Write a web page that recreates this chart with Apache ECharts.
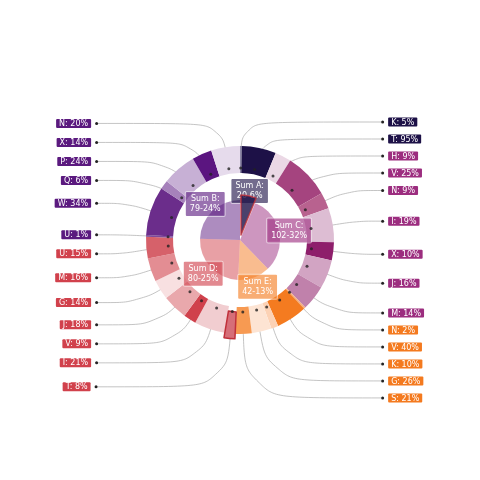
<!DOCTYPE html>
<html><head><meta charset="utf-8">
<script src="https://cdn.jsdelivr.net/npm/echarts@6/dist/echarts.min.js"></script>
<style>html,body{margin:0;padding:0;background:#fff}#c{width:480px;height:480px}</style>
</head><body><div id="c"></div>
<script>
// groups in clockwise drawing order
const groupNames = ['Sum A', 'Sum C', 'Sum E', 'Sum D', 'Sum B'];
const childNames = [
  ['K', 'T'],
  ['H', 'V', 'N', 'I', 'X', 'J', 'M'],
  ['N', 'V', 'K', 'G', 'S'],
  ['T', 'I', 'V', 'J', 'G', 'M', 'U'],
  ['U', 'W', 'Q', 'P', 'X', 'N']
];
const childValues = [
  [1, 19],
  [9, 25, 9, 19, 10, 16, 14],
  [1, 17, 4, 11, 9],
  [6, 17, 7, 14, 11, 13, 12],
  [1, 27, 5, 19, 11, 16]
];
// styles
const groupColors = ['#1d1147', '#9c2d7f', '#f47a1f', '#d1414c', '#5b1a7f'];
const childColors = [
  ['#8d87a6', '#1d1147'],
  ['#ebd8e5', '#a5447f', '#b8628f', '#ddbdd3', '#8e1e6b', '#d2a4c3', '#c081ab'],
  ['#f8b07c', '#f47b20', '#fcd2b5', '#fde4d3', '#f79a52'],
  ['#d66e78', '#f1cdd0', '#d0414c', '#e9a8ac', '#f8e0e1', '#e38d93', '#d6616a'],
  ['#7d4a9a', '#6b2d8b', '#a681bb', '#c7b0d5', '#5b1580', '#e6dbec']
];
const selInner = 0;          // Sum A
const selOuter = [3, 0];     // D / T

function rgba(hex, a) {
  const n = parseInt(hex.slice(1), 16);
  return 'rgba(' + (n >> 16) + ',' + ((n >> 8) & 255) + ',' + (n & 255) + ',' + a + ')';
}

const groupSums = childValues.map(a => a.reduce((s, v) => s + v, 0));
const total = groupSums.reduce((s, v) => s + v, 0);

const innerData = groupNames.map((n, g) => ({
  name: n, value: groupSums[g], selected: g === selInner,
  itemStyle: { color: groupColors[g], opacity: 0.5 }
}));
const innerLabelData = groupNames.map((n, g) => ({
  name: n, value: groupSums[g],
  label: { backgroundColor: rgba(groupColors[g], 0.62) }
}));

const outerData = [], labelData = [], meta = [], dots = [];
let cum = 0;
childValues.forEach((arr, g) => arr.forEach((v, i) => {
  const sel = g === selOuter[0] && i === selOuter[1];
  const uid = groupNames[g] + '/' + childNames[g][i];
  const right = (cum + v / 2) / total < 0.5;
  const mm = right ? 5 : 7;
  outerData.push({ name: uid, value: v, selected: sel, itemStyle: { color: childColors[g][i] } });
  labelData.push({ name: uid, value: v, selected: sel, label: { minMargin: mm, margin: mm } });
  const mid = cum + v / 2;
  meta.push({ g: g, label: childNames[g][i], pct: Math.round(v / groupSums[g] * 100), right: right });
  dots.push([1, mid]);
  cum += v;
}));

const rich = {
  d: { width: 3, height: 3, backgroundColor: '#222', borderRadius: 1.5, verticalAlign: 'middle' },
  s: { width: 4, verticalAlign: 'middle' }
};
groupColors.forEach((c, g) => {
  rich['t' + g] = {
    color: '#fff', fontSize: 8, fontFamily: 'DejaVu Sans', lineHeight: 9, verticalAlign: 'middle',
    backgroundColor: c, padding: [1, 3, 0, 3], borderRadius: 1,
    borderColor: 'rgba(255,255,255,0.6)', borderWidth: 1
  };
});

const chart = echarts.init(document.getElementById('c'), null, { renderer: 'canvas' });
chart.setOption({
  animation: false,
  backgroundColor: '#fff',
  polar: { center: ['50%', '50%'], radius: 72 },
  angleAxis: { type: 'value', min: 0, max: total, startAngle: 90, clockwise: true, show: false },
  radiusAxis: { type: 'value', min: 0, max: 1, show: false },
  series: [
    {
      type: 'pie', radius: [0, 40], center: ['50%', '50%'], startAngle: 90,
      selectedMode: 'single', selectedOffset: 5,
      select: { itemStyle: { opacity: 0.8, borderColor: '#c0303a', borderWidth: 1.5 } },
      label: { show: false }, labelLine: { show: false },
      data: innerData
    },
    {
      type: 'pie', radius: [67, 94], center: ['50%', '50%'], startAngle: 90,
      selectedMode: 'single', selectedOffset: 5,
      select: { itemStyle: { borderColor: '#c0303a', borderWidth: 1.5 } },
      label: { show: false }, labelLine: { show: false },
      data: outerData
    },
    {
      type: 'pie', radius: [67, 72], center: ['50%', '50%'], startAngle: 90, silent: true,
      selectedMode: 'single', selectedOffset: 5,
      itemStyle: { color: 'rgba(0,0,0,0)' },
      select: { itemStyle: { color: 'rgba(0,0,0,0)', borderWidth: 0 } },
      label: {
        show: true, position: 'outer', alignTo: 'labelLine', distanceToLabelLine: 0,
        formatter: p => {
          const m = meta[p.dataIndex];
          const t = '{t' + m.g + '|' + m.label + ': ' + m.pct + '%}';
          return m.right ? '{d|}{s|}' + t : t + '{s|}{d|}';
        },
        rich: rich
      },
      labelLine: { show: true, length: 46, length2: 24, smooth: 0.35, lineStyle: { color: '#aaa', width: 0.7 } },
      data: labelData
    },
    {
      type: 'pie', radius: [0, 94], center: ['50%', '50%'], startAngle: 90, silent: true,
      percentPrecision: 0,
      itemStyle: { color: 'rgba(0,0,0,0)' },
      label: {
        show: true, position: 'inside', formatter: '{b}:\n{c}-{d}%',
        color: '#fff', fontSize: 8, fontFamily: 'DejaVu Sans', lineHeight: 10,
        padding: [2, 4], borderColor: 'rgba(255,255,255,0.5)', borderWidth: 1, borderRadius: 1
      },
      labelLine: { show: false },
      data: innerLabelData
    },
    {
      type: 'scatter', coordinateSystem: 'polar', silent: true, z: 10,
      symbolSize: 3, itemStyle: { color: '#222' },
      data: dots
    }
  ]
});
</script></body></html>
